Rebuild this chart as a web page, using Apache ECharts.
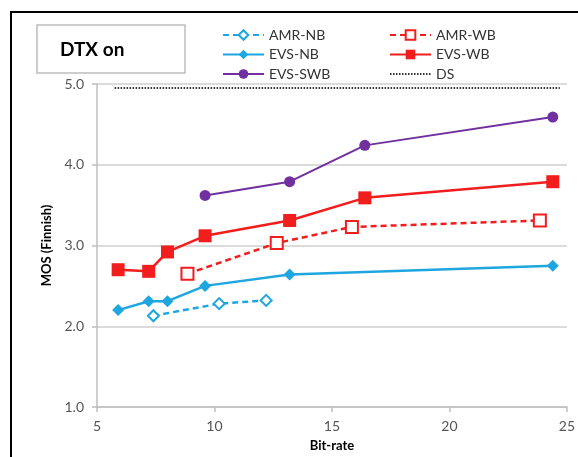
<!DOCTYPE html>
<html>
<head>
<meta charset="utf-8">
<script src="https://cdn.jsdelivr.net/npm/echarts@6/dist/echarts.min.js"></script>
<style>html,body{margin:0;padding:0;background:#fff}#c{width:578px;height:457px}</style>
</head>
<body>
<div id="c"></div>
<script>
var amrNbX = [7.4, 10.2, 12.2];
var amrNbY = [2.13, 2.28, 2.32];
var evsNbX = [5.9, 7.2, 8.0, 9.6, 13.2, 24.4];
var evsNbY = [2.20, 2.31, 2.31, 2.50, 2.64, 2.75];
var amrWbX = [8.85, 12.65, 15.85, 23.85];
var amrWbY = [2.65, 3.03, 3.23, 3.31];
var evsWbX = [5.9, 7.2, 8.0, 9.6, 13.2, 16.4, 24.4];
var evsWbY = [2.70, 2.68, 2.92, 3.12, 3.31, 3.59, 3.79];
var evsSwbX = [9.6, 13.2, 16.4, 24.4];
var evsSwbY = [3.62, 3.79, 4.24, 4.59];
var dsX = [5.75, 24.7];
var dsY = [4.95, 4.95];
var xTicks = [5, 10, 15, 20, 25];
var yTicks = [1, 2, 3, 4, 5];

function pairs(xs, ys) { return xs.map(function (x, i) { return [x, ys[i]]; }); }

var FONT = 'Lato';
var BLUE = '#1ea6e0', RED = '#f21d1d', PURPLE = '#7030a0';

var chart = echarts.init(document.getElementById('c'));
chart.setOption({
  animation: false,
  textStyle: { fontFamily: FONT },
  grid: { left: 97, right: 11, top: 84, bottom: 49 },
  graphic: [
    { type: 'rect', shape: { x: 11, y: 12, width: 600, height: 500 }, style: { fill: 'none', stroke: '#000', lineWidth: 2 }, z: 100 },
    { type: 'rect', shape: { x: 37, y: 25, width: 148, height: 48 }, style: { fill: '#fff', stroke: '#bdbdbd', lineWidth: 1.5 } },
    { type: 'text', left: 60, top: 40, style: { text: 'DTX on', font: 'bold 19px ' + FONT, fill: '#000' } }
  ],
  legend: [
    { orient: 'vertical', left: 217, top: 23, itemWidth: 41, itemHeight: 12, itemGap: 5.5,
      textStyle: { fontSize: 14, color: '#333', fontFamily: FONT },
      data: ['AMR-NB', 'EVS-NB', 'EVS-SWB'] },
    { orient: 'vertical', left: 384, top: 23, itemWidth: 41, itemHeight: 12, itemGap: 5.5,
      textStyle: { fontSize: 14, color: '#333', fontFamily: FONT },
      data: ['AMR-WB', 'EVS-WB', { name: 'DS', itemStyle: { opacity: 0 } }] }
  ],
  xAxis: {
    type: 'value', min: 5, max: 25, interval: 5,
    name: 'Bit-rate', nameLocation: 'middle', nameGap: 32,
    nameTextStyle: { fontWeight: 'bold', fontSize: 13, color: '#000', fontFamily: FONT },
    axisLine: { show: true, lineStyle: { color: '#bfbfbf', width: 1.5 } },
    axisTick: { show: true, length: 5, lineStyle: { color: '#bfbfbf', width: 1.5 } },
    axisLabel: { margin: 12, fontSize: 14, color: '#555', fontFamily: FONT,
      formatter: function (v) { return xTicks.indexOf(v) >= 0 ? String(v) : ''; } },
    splitLine: { show: false }
  },
  yAxis: {
    type: 'value', min: 1, max: 5, interval: 1,
    name: 'MOS (Finnish)', nameLocation: 'middle', nameGap: 44, nameRotate: 90,
    nameTextStyle: { fontWeight: 'bold', fontSize: 13, color: '#000', fontFamily: FONT },
    axisLine: { show: true, lineStyle: { color: '#bfbfbf', width: 1.5 } },
    axisTick: { show: true, length: 5, lineStyle: { color: '#bfbfbf', width: 1.5 } },
    axisLabel: { margin: 13, fontSize: 14, color: '#555', fontFamily: FONT,
      formatter: function (v) { return yTicks.indexOf(v) >= 0 ? v.toFixed(1) : ''; } },
    splitLine: { show: true, lineStyle: { color: '#cfcfcf', width: 1.5 } }
  },
  series: [
    { name: 'AMR-NB', type: 'line', data: pairs(amrNbX, amrNbY), symbol: 'diamond', symbolSize: 11,
      itemStyle: { color: '#fff', borderColor: BLUE, borderWidth: 2 },
      lineStyle: { color: BLUE, width: 2.5, type: [6, 4] }, z: 3 },
    { name: 'EVS-NB', type: 'line', data: pairs(evsNbX, evsNbY), symbol: 'diamond', symbolSize: 12,
      itemStyle: { color: BLUE }, lineStyle: { color: BLUE, width: 2.5 }, z: 3 },
    { name: 'EVS-SWB', type: 'line', data: pairs(evsSwbX, evsSwbY), symbol: 'circle', symbolSize: 11,
      itemStyle: { color: PURPLE }, lineStyle: { color: PURPLE, width: 2 }, z: 3 },
    { name: 'AMR-WB', type: 'line', data: pairs(amrWbX, amrWbY), symbol: 'rect', symbolSize: 12,
      itemStyle: { color: '#fff', borderColor: RED, borderWidth: 2 },
      lineStyle: { color: RED, width: 2.5, type: [6, 4] }, z: 3 },
    { name: 'EVS-WB', type: 'line', data: pairs(evsWbX, evsWbY), symbol: 'rect', symbolSize: 13,
      itemStyle: { color: RED }, lineStyle: { color: RED, width: 2.5 }, z: 3 },
    { name: 'DS', type: 'line', data: pairs(dsX, dsY), symbol: 'none',
      itemStyle: { color: '#333' }, lineStyle: { color: '#333', width: 2, type: [1.5, 1.5] }, z: 2 }
  ]
});
</script>
</body>
</html>
